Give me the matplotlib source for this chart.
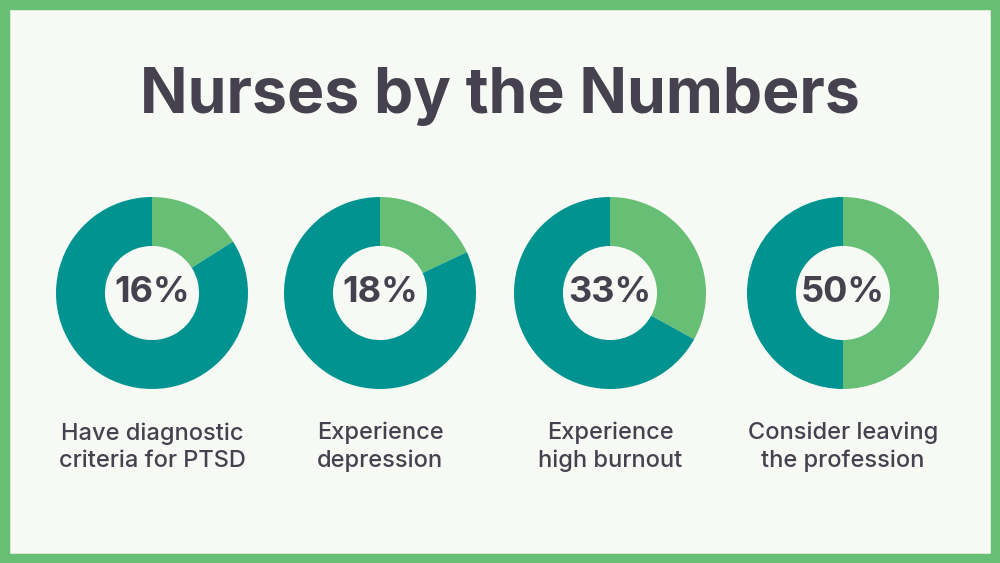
import matplotlib
matplotlib.use("Agg")
import matplotlib.pyplot as plt
from matplotlib.patches import Rectangle

# ── Data ──────────────────────────────────────────────────────────────────────
title = "Nurses by the Numbers"
percents = [16, 18, 33, 50]
labels = ["Have diagnostic\ncriteria for PTSD", "Experience\ndepression",
          "Experience\nhigh burnout", "Consider leaving\nthe profession"]

# ── Style ─────────────────────────────────────────────────────────────────────
W, H = 1000, 563
bg = "#f7faf4"
green = "#66bf75"
teal = "#00938f"
dark = "#45414f"
font = ["Inter", "DejaVu Sans"]
centers_x = [152, 380, 610, 843]
center_y = 293
radius = 96

fig = plt.figure(figsize=(W / 100, H / 100), dpi=100)
fig.patch.set_facecolor(bg)
fig.patches.append(Rectangle((0, 0), 1, 1, transform=fig.transFigure,
                             fill=False, edgecolor=green, linewidth=14))

fig.text(0.5, 1 - 97 / H, title, ha="center", va="center",
         fontsize=45, fontweight="bold", color=dark, family=font)

for cx, pct, lab in zip(centers_x, percents, labels):
    ax = fig.add_axes([(cx - radius) / W, (H - center_y - radius) / H,
                       2 * radius / W, 2 * radius / H])
    ax.pie([pct, 100 - pct], colors=[green, teal], startangle=90,
           counterclock=False, radius=1,
           wedgeprops=dict(width=0.51, linewidth=0))
    ax.set_xlim(-1, 1)
    ax.set_ylim(-1, 1)
    ax.set_aspect("equal")
    ax.text(0, 0, f"{pct}%", ha="center", va="center", fontsize=26,
            fontweight="bold", color=dark, family=font)
    fig.text(cx / W, 1 - 447 / H, lab, ha="center", va="center",
             fontsize=17, fontweight="medium", color=dark, family=font,
             linespacing=1.3)

fig.savefig("out.png", dpi=100, facecolor=bg)
